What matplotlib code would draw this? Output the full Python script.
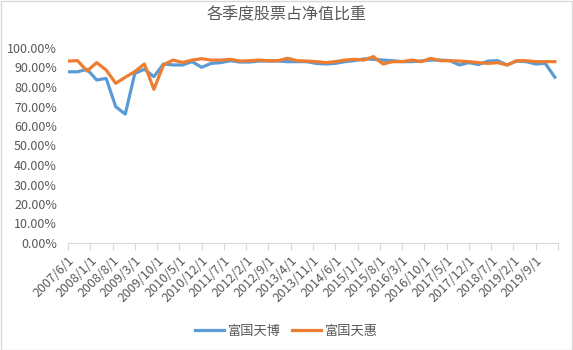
import numpy as np
import pandas as pd
import matplotlib
matplotlib.use("Agg")
import matplotlib.pyplot as plt
from matplotlib.patches import Rectangle

plt.rcParams['font.family'] = ['Noto Sans CJK SC', 'DejaVu Sans']

# quarterly report dates, 2007Q2 .. 2020Q1
dates = pd.date_range("2007-06-30", periods=52, freq="QE")

# stock share of net asset value (%), per fund
tianbo = [87.8, 87.8, 89.1, 83.6, 84.4, 69.9, 66.1, 87.0, 89.1, 85.3,
          91.8, 91.3, 91.3, 93.0, 90.1, 92.1, 92.5, 93.5, 92.8, 92.8,
          93.3, 93.3, 93.3, 93.0, 93.0, 93.0, 92.1, 91.8, 92.1, 93.0,
          93.5, 94.4, 94.2, 93.8, 93.5, 93.0, 93.0, 93.3, 93.8, 93.8,
          93.5, 91.3, 92.5, 91.5, 93.3, 93.5, 91.3, 93.3, 93.0, 91.8,
          92.1, 85.0]
tianhui = [93.3, 93.5, 88.2, 92.5, 88.7, 81.9, 85.0, 87.9, 91.8, 78.8,
           91.3, 93.8, 92.6, 93.8, 94.5, 93.8, 93.8, 94.2, 93.3, 93.5,
           93.8, 93.5, 93.5, 94.7, 93.5, 93.3, 93.0, 92.5, 93.0, 93.8,
           94.2, 93.8, 95.6, 91.8, 93.0, 93.0, 93.8, 93.0, 94.7, 93.5,
           93.5, 93.3, 93.0, 92.5, 92.1, 92.5, 91.3, 93.5, 93.5, 93.0,
           93.0, 93.0]

tick_labels = ["2007/6/1", "2008/1/1", "2008/8/1", "2009/3/1", "2009/10/1",
               "2010/5/1", "2010/12/1", "2011/7/1", "2012/2/1", "2012/9/1",
               "2013/4/1", "2013/11/1", "2014/6/1", "2015/1/1", "2015/8/1",
               "2016/3/1", "2016/10/1", "2017/5/1", "2017/12/1", "2018/7/1",
               "2019/2/1", "2019/9/1", ""]

# month axis, counted from 2007/6
months = (dates.year - 2007) * 12 + dates.month - 6
tick_pos = np.arange(len(tick_labels)) * 7

grey = "#595959"
fig = plt.figure(figsize=(5.73, 3.5), dpi=100)
ax = fig.add_axes([68 / 573, 1 - 243 / 350, 490 / 573, 195 / 350])

ax.plot(months, np.array(tianbo) / 100, color="#5B9BD5", lw=2.3, label="富国天博",
        solid_joinstyle="round")
ax.plot(months, np.array(tianhui) / 100, color="#ED7D31", lw=2.3, label="富国天惠",
        solid_joinstyle="round")

ax.set_xlim(0, tick_pos[-1])
ax.set_ylim(0, 1.0)
ax.set_yticks(np.arange(0, 1.01, 0.1))
ax.set_yticklabels([f"{v * 100:.2f}%" for v in np.arange(0, 1.01, 0.1)])
ax.set_xticks(tick_pos)
ax.set_xticklabels(tick_labels, rotation=45, ha="right", va="top",
                   rotation_mode="anchor")

for s in ["top", "right", "left"]:
    ax.spines[s].set_visible(False)
ax.spines["bottom"].set_color("#D9D9D9")
ax.tick_params(axis="y", length=0, labelsize=9, labelcolor=grey, pad=8)
ax.tick_params(axis="x", length=5, color="#D9D9D9", labelsize=9, labelcolor=grey, pad=3)

fig.text(0.5, 1 - 15 / 350, "各季度股票占净值比重", ha="center", va="center",
         fontsize=11.5, color=grey)

fig.legend(loc="center", bbox_to_anchor=(0.5, 1 - 331 / 350), ncol=2, frameon=False,
           fontsize=9.5, labelcolor=grey, handlelength=2.2, handletextpad=0.3,
           columnspacing=0.8)

fig.patches.append(Rectangle((0.5 / 573, 0.5 / 350), 1 - 1.5 / 573, 1 - 1.5 / 350,
                             transform=fig.transFigure, fill=False,
                             edgecolor="#D9D9D9", lw=1))

fig.savefig("out.png", dpi=100)
